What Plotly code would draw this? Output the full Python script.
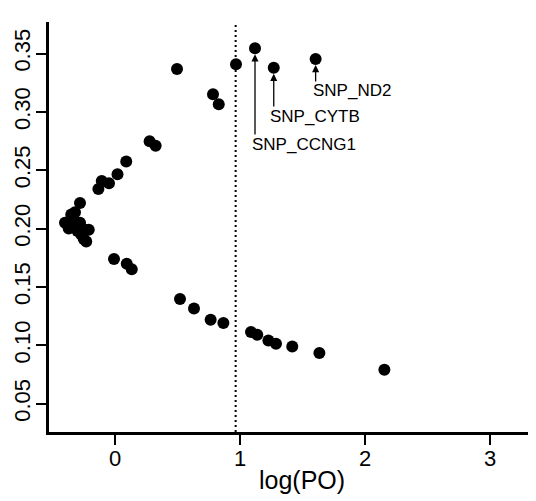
import plotly.graph_objects as go

# Data (log(PO) vs Fst-like statistic)
cluster_x = [-0.40, -0.37, -0.35, -0.33, -0.32, -0.30, -0.30, -0.28, -0.28, -0.27, -0.25, -0.23, -0.21, -0.26]
cluster_y = [0.205, 0.200, 0.212, 0.207, 0.214, 0.203, 0.198, 0.222, 0.205, 0.195, 0.191, 0.189, 0.199, 0.200]

upper_x = [-0.133, -0.106, -0.048, 0.02, 0.09, 0.277, 0.325, 0.496, 0.784, 0.83, 0.968, 1.12, 1.27, 1.605]
upper_y = [0.234, 0.2408, 0.2389, 0.2466, 0.2574, 0.2748, 0.271, 0.3367, 0.315, 0.3065, 0.3408, 0.3545, 0.3378, 0.3453]

lower_x = [-0.008, 0.094, 0.134, 0.52, 0.632, 0.765, 0.867, 1.088, 1.138, 1.227, 1.288, 1.418, 1.635, 2.155]
lower_y = [0.174, 0.1698, 0.1652, 0.1396, 0.1315, 0.1218, 0.119, 0.1113, 0.109, 0.1041, 0.1013, 0.099, 0.0933, 0.079]

threshold = 0.965

label_names = ["SNP_CCNG1", "SNP_CYTB", "SNP_ND2"]
label_point_x = [1.12, 1.27, 1.605]
label_point_y = [0.3545, 0.3378, 0.3453]
label_text_x = [1.08, 1.226, 1.566]
label_text_y = [0.2717, 0.2959, 0.3181]
label_tail_y = [0.2794, 0.3033, 0.3247]

x_ticks = [0, 1, 2, 3]
y_ticks = [0.05, 0.10, 0.15, 0.20, 0.25, 0.30, 0.35]
y_tick_labels = ["0.05", "0.10", "0.15", "0.20", "0.25", "0.30", "0.35"]

FONT = "Arial, Liberation Sans, sans-serif"

all_x = cluster_x + upper_x + lower_x
all_y = cluster_y + upper_y + lower_y

fig = go.Figure()
fig.add_trace(go.Scatter(
    x=all_x, y=all_y, mode="markers",
    marker=dict(color="black", size=12, line=dict(width=0)),
    showlegend=False, hoverinfo="skip", cliponaxis=False,
))

fig.add_shape(type="line", xref="x", yref="paper", x0=threshold, x1=threshold, y0=0, y1=1,
              line=dict(color="black", width=2, dash="2px,3px"))

for name, px, py, tx, ty, tl in zip(label_names, label_point_x, label_point_y,
                                     label_text_x, label_text_y, label_tail_y):
    fig.add_annotation(x=px, y=py, ax=px, ay=tl, xref="x", yref="y", axref="x", ayref="y",
                       text="", showarrow=True, arrowhead=2, arrowsize=1.1, arrowwidth=1.3,
                       arrowcolor="black", standoff=6)
    fig.add_annotation(x=tx, y=ty, xref="x", yref="y", text=name, showarrow=False,
                       xanchor="left", yanchor="middle",
                       font=dict(family=FONT, size=17, color="black"))

fig.add_annotation(x=1.496, y=0, xref="x", yref="paper", yanchor="top", yshift=-32,
                   text="log(PO)", showarrow=False,
                   font=dict(family=FONT, size=25, color="black"))

fig.update_xaxes(range=[-0.528, 3.368], tickvals=x_ticks, ticktext=[str(v) for v in x_ticks],
                 showline=True, linecolor="black", linewidth=2.5, ticks="outside", ticklen=10,
                 tickwidth=2, tickcolor="black", showgrid=False, zeroline=False, automargin=False,
                 tickfont=dict(family=FONT, size=22, color="black"), ticklabelstandoff=-5)
fig.update_yaxes(range=[0.0257, 0.377], tickvals=y_ticks, ticktext=y_tick_labels,
                 showline=True, linecolor="black", linewidth=2.5, ticks="outside", ticklen=10,
                 tickwidth=2, tickcolor="black", showgrid=False, zeroline=False, tickangle=-90,
                 automargin=False,
                 tickfont=dict(family=FONT, size=22, color="black"), ticklabelstandoff=-3)

# the page body has an 8px default margin, so the figure is offset accordingly
fig.update_layout(width=536, height=501, margin=dict(l=41, r=8, t=14, b=77),
                  plot_bgcolor="white", paper_bgcolor="white")

fig.write_html("out.html")
